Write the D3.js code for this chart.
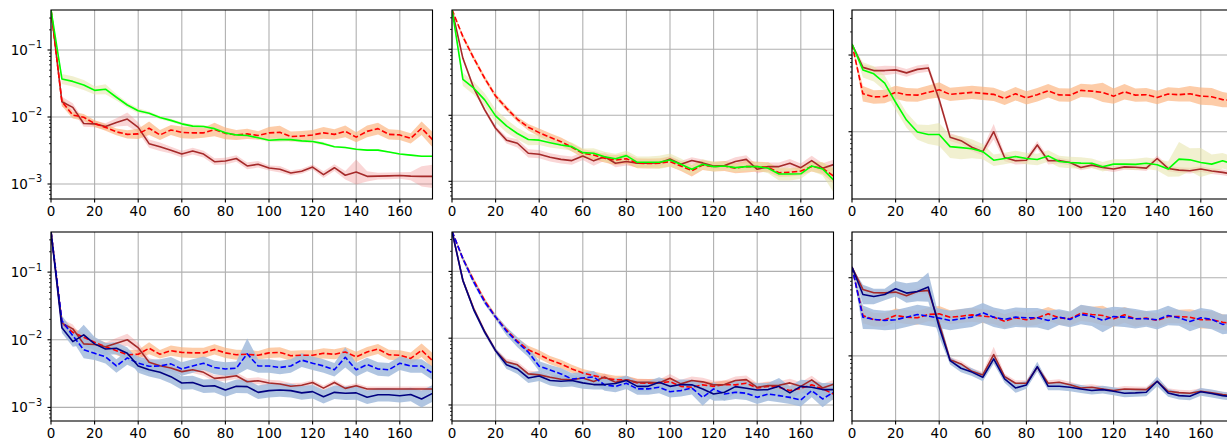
<!DOCTYPE html>
<html><head><meta charset="utf-8">
<script src="https://cdn.jsdelivr.net/npm/d3@7"></script>
<style>body{margin:0;background:#fff}svg{display:block}text{font-family:"DejaVu Sans",sans-serif;fill:#000}</style>
</head><body><svg id="c" width="1227" height="440"></svg>
<script>
// ---------------- data ----------------
const epochs = [0,5,10,15,20,25,30,35,40,45,50,55,60,65,70,75,80,85,90,95,100,105,110,115,120,125,130,135,140,145,150,155,160,165,170,175];
const xTicks = [0,20,40,60,80,100,120,140,160];
const yTickExponents = [-1,-2,-3];

// panel 1 (top-left)
const p1Green = [0.40,0.037,0.034,0.030,0.025,0.026,0.0197,0.0151,0.0124,0.0114,0.0098,0.0089,0.0079,0.0073,0.0072,0.0067,0.0058,0.0054,0.0053,0.0049,0.0045,0.0046,0.0046,0.0044,0.0043,0.0040,0.0036,0.0035,0.0033,0.0032,0.0032,0.0030,0.0028,0.0027,0.0026,0.0026];
const p1Red = [0.40,0.0169,0.0107,0.0099,0.0080,0.0070,0.0060,0.0055,0.0056,0.0068,0.0054,0.0064,0.0059,0.0058,0.0058,0.0065,0.0057,0.0054,0.0056,0.0053,0.0058,0.0059,0.0051,0.0052,0.0054,0.0058,0.0055,0.0061,0.0050,0.0061,0.0067,0.0055,0.0054,0.0048,0.0068,0.0046];
const p1Brown = [0.40,0.0169,0.0139,0.0080,0.0079,0.0072,0.0083,0.0093,0.0070,0.0040,0.0036,0.0032,0.0028,0.0031,0.0028,0.00215,0.0022,0.0024,0.00186,0.00197,0.00173,0.00166,0.00146,0.00155,0.00179,0.00138,0.00175,0.00135,0.00151,0.0013,0.00131,0.00132,0.00134,0.00131,0.0013,0.0013];
const p1GreenBand = [0,6,6,6,5,6,4,3,3,2,2,2,2,2,2,2,2,1,1,2,2,3,2,2,2,2,1,1,1,1,1,1,1,1,1,1];
const p1RedBand = [0,5,4,4,4,4,4,5,6,8,6,6,7,7,6,8,7,6,6,5,7,8,6,6,6,7,6,7,6,7,7,6,6,6,8,9];
const p1BrownBand = [0,6,5,4,4,4,5,8,6,5,5,4,4,4,4,4,4,4,4,4,3,4,3,3,3,4,4,5,15,6,4,4,4,5,12,14];

// panel 2 (top-middle)
const p2Green = [0.40,0.035,0.0257,0.0171,0.0098,0.0069,0.0053,0.0043,0.0042,0.00385,0.00355,0.00335,0.00272,0.00266,0.00236,0.0022,0.00245,0.00194,0.00194,0.00194,0.0021,0.00181,0.00152,0.00181,0.00167,0.00171,0.00161,0.00167,0.00167,0.00158,0.00129,0.00129,0.0013,0.00171,0.00154,0.00105];
const p2Red = [0.40,0.155,0.073,0.0364,0.0196,0.0128,0.0087,0.0066,0.00546,0.00464,0.00399,0.00327,0.00266,0.0025,0.00223,0.0021,0.0022,0.00188,0.00186,0.00188,0.00199,0.00171,0.00145,0.00176,0.00167,0.00171,0.00158,0.00167,0.00167,0.00163,0.00135,0.00137,0.00143,0.00167,0.00158,0.0012];
const p2Brown = [0.40,0.073,0.0257,0.0121,0.00636,0.0042,0.00377,0.00266,0.00257,0.00231,0.00215,0.00206,0.00242,0.00204,0.00236,0.00188,0.0020,0.00188,0.00188,0.0019,0.00218,0.00181,0.00206,0.0019,0.00171,0.00173,0.0020,0.00215,0.00152,0.00167,0.00167,0.00188,0.00161,0.00206,0.00158,0.00179];
const p2GreenBand = [0,8,8,8,8,8,7,7,6,6,5,5,5,6,6,6,6,7,7,8,8,7,6,6,6,5,5,5,5,6,8,8,6,6,8,15];
const p2RedBand = [0,3,3,3,3,3,3,4,5,5,5,5,5,5,5,6,6,6,6,6,6,6,7,6,6,6,6,7,6,6,5,5,5,6,7,9];
const p2BrownBand = [0,3,3,3,3,4,5,5,5,5,5,5,5,6,5,5,5,5,5,4,4,4,4,4,4,5,5,5,5,5,5,5,5,6,6,6];

// panel 3 (top-right)
const p3Green = [0.139,0.064,0.0568,0.043,0.0242,0.0142,0.0099,0.0092,0.0092,0.0064,0.0062,0.0060,0.0055,0.00425,0.00448,0.00475,0.00448,0.00434,0.00484,0.00409,0.00397,0.0039,0.00388,0.00349,0.00378,0.00378,0.00375,0.00388,0.00372,0.00326,0.00439,0.0043,0.00397,0.00378,0.00418,0.0038];
const p3Red = [0.139,0.0313,0.0284,0.0288,0.0326,0.0304,0.030,0.0327,0.0352,0.0307,0.0316,0.0326,0.0316,0.0307,0.0272,0.0313,0.0276,0.0304,0.0342,0.0302,0.030,0.0346,0.0338,0.0326,0.0291,0.0332,0.030,0.0304,0.0280,0.031,0.0304,0.0313,0.0291,0.0286,0.0262,0.0254];
const p3Brown = [0.139,0.069,0.0627,0.0627,0.064,0.0585,0.065,0.0679,0.0262,0.0085,0.00765,0.00627,0.0055,0.010,0.00461,0.00418,0.00425,0.00673,0.00418,0.0042,0.00397,0.00342,0.00367,0.00342,0.00326,0.00348,0.00345,0.00335,0.00448,0.00332,0.00316,0.0031,0.00326,0.00307,0.00295,0.0028];
const p3GreenBand = [0,8,8,8,8,8,8,10,12,12,12,10,8,6,6,6,6,6,6,6,6,6,5,5,5,5,6,6,6,8,18,12,15,10,8,8];
const p3RedBand = [0,8,7,7,7,7,7,7,8,7,7,7,7,7,7,7,7,7,7,7,7,7,7,10,8,8,7,7,7,7,7,8,9,9,8,7];
const p3BrownBand = [0,3,4,5,4,4,4,4,4,4,4,4,4,8,4,4,4,4,4,3,3,3,3,3,3,3,3,3,3,3,3,3,3,3,3,3];

// panel 4 (bottom-left)
const p4Red = [0.40,0.0176,0.0129,0.0109,0.0092,0.0079,0.0069,0.0060,0.0061,0.0075,0.0061,0.0069,0.0065,0.0064,0.0064,0.0072,0.0064,0.0060,0.0061,0.0059,0.0064,0.0065,0.0058,0.0059,0.0059,0.0063,0.0061,0.0066,0.0056,0.0066,0.0073,0.0060,0.0059,0.0053,0.0070,0.0049];
const p4Brown = [0.40,0.0176,0.0145,0.0087,0.0085,0.0079,0.0089,0.0100,0.0076,0.00465,0.00414,0.00383,0.00338,0.00361,0.0033,0.00269,0.00278,0.00294,0.0024,0.00248,0.00229,0.00222,0.00205,0.00212,0.00234,0.00193,0.00234,0.00191,0.00209,0.00187,0.00187,0.00187,0.00187,0.00187,0.00187,0.00187];
const p4Navy = [0.40,0.015,0.0094,0.0118,0.0087,0.0073,0.0075,0.0063,0.0041,0.0036,0.0033,0.00285,0.00229,0.00234,0.00205,0.00209,0.00181,0.00205,0.00203,0.00167,0.00177,0.00181,0.00177,0.00164,0.00171,0.00144,0.00167,0.00162,0.00164,0.00141,0.00154,0.00154,0.00149,0.00155,0.00133,0.00161];
const p4Blue = [0.40,0.0192,0.0115,0.0071,0.0063,0.0056,0.0041,0.0054,0.0045,0.00405,0.0041,0.0044,0.0037,0.0041,0.0045,0.0039,0.0037,0.0038,0.0062,0.0041,0.0041,0.0039,0.0041,0.0050,0.0045,0.0041,0.0036,0.0055,0.0036,0.0043,0.0037,0.0036,0.0045,0.0041,0.0041,0.0032];
const p4RedBand = [0,5,5,5,5,5,5,6,5,7,5,6,6,6,6,6,6,6,5,5,6,6,6,6,6,6,6,6,6,6,6,6,6,7,8,9];
const p4BrownBand = [0,5,5,5,5,5,6,7,6,5,5,4,4,4,4,4,4,4,4,4,4,4,4,3,3,3,3,3,3,3,3,3,3,3,3,3];
const p4NavyBand = [0,6,6,12,8,7,7,7,8,8,8,8,8,8,8,8,8,8,8,8,8,8,8,8,8,8,8,8,8,8,8,8,8,8,10,10];
const p4BlueBand = [0,6,6,10,8,8,8,8,8,8,8,8,8,8,8,8,8,8,18,8,8,8,8,8,8,8,8,12,8,8,8,8,8,8,8,8];

// panel 5 (bottom-middle)
const p5Red = [0.40,0.155,0.073,0.0367,0.0207,0.0133,0.009,0.0067,0.0057,0.0047,0.0041,0.00347,0.003,0.00275,0.00254,0.00238,0.00238,0.00214,0.00212,0.00214,0.00224,0.0019,0.00184,0.002,0.0019,0.00202,0.002,0.00212,0.0018,0.0019,0.00184,0.00164,0.00178,0.002,0.00174,0.00146];
const p5Brown = [0.40,0.073,0.0275,0.0126,0.0065,0.0044,0.0040,0.00292,0.00282,0.0026,0.00243,0.00238,0.00254,0.00224,0.00263,0.00218,0.00238,0.00218,0.00218,0.00214,0.00251,0.00207,0.00232,0.00222,0.002,0.00202,0.00232,0.0024,0.00184,0.00195,0.00197,0.00214,0.0019,0.00238,0.0018,0.00205];
const p5Navy = [0.40,0.073,0.0266,0.0123,0.0065,0.0040,0.00347,0.00254,0.00272,0.00232,0.00226,0.00232,0.00214,0.00202,0.00202,0.0021,0.00232,0.0019,0.0019,0.00218,0.0019,0.00202,0.002,0.00174,0.00146,0.00155,0.00188,0.00178,0.00168,0.0017,0.0019,0.00152,0.0019,0.00184,0.0017,0.0017];
const p5Blue = [0.40,0.155,0.069,0.0347,0.0207,0.0127,0.0087,0.0062,0.0038,0.00335,0.00292,0.00245,0.00254,0.00263,0.002,0.0019,0.00212,0.00174,0.00174,0.00184,0.00158,0.00164,0.0018,0.0013,0.00174,0.00146,0.00155,0.0015,0.0013,0.00146,0.00138,0.0013,0.00119,0.00164,0.00123,0.00155];
const p5RedBand = [0,3,3,3,3,3,4,5,5,5,5,5,5,5,5,5,5,5,5,5,5,5,5,5,5,5,5,5,5,5,5,5,5,5,6,8];
const p5BrownBand = [0,3,3,3,3,4,4,4,4,4,4,4,4,4,4,4,4,4,4,4,5,5,5,5,5,5,5,5,5,5,5,5,5,5,5,5];
const p5NavyBand = [0,3,3,3,3,5,6,6,6,6,7,7,7,6,6,6,6,6,6,6,6,6,6,7,8,10,8,8,8,8,10,8,8,8,8,8];
const p5BlueBand = [0,3,3,3,3,5,6,6,6,6,7,7,7,7,7,7,7,7,7,7,7,7,8,10,8,8,8,8,8,8,8,8,8,8,10,8];

// panel 6 (bottom-right)
const p6Red = [0.137,0.0329,0.029,0.029,0.0329,0.0313,0.0307,0.0339,0.0345,0.0313,0.0322,0.0335,0.0322,0.0313,0.0278,0.0307,0.029,0.0307,0.0345,0.0307,0.0298,0.0352,0.0339,0.0329,0.0298,0.0335,0.0298,0.0304,0.0284,0.0319,0.0319,0.0313,0.029,0.029,0.027,0.0257];
const p6Brown = [0.137,0.0709,0.0642,0.064,0.0655,0.0588,0.0668,0.0688,0.0257,0.0089,0.0079,0.00635,0.0057,0.0104,0.00543,0.00446,0.00446,0.00716,0.00446,0.0046,0.00428,0.00389,0.00397,0.00377,0.0036,0.00377,0.00373,0.0037,0.00473,0.00353,0.00339,0.00333,0.00353,0.00336,0.0032,0.0031];
const p6Navy = [0.137,0.061,0.0576,0.061,0.0723,0.0636,0.0668,0.0759,0.0233,0.0087,0.00695,0.0062,0.00532,0.00916,0.00508,0.00389,0.00425,0.0073,0.00408,0.00408,0.00397,0.00377,0.0036,0.0037,0.00353,0.00333,0.00336,0.00342,0.00473,0.00336,0.0031,0.00304,0.00347,0.0033,0.0031,0.0030];
const p6Blue = [0.137,0.0313,0.0293,0.0284,0.029,0.0313,0.0339,0.0322,0.0304,0.0284,0.0298,0.0313,0.0356,0.0313,0.0293,0.0313,0.0307,0.0307,0.0284,0.0313,0.0293,0.0339,0.0322,0.0284,0.0319,0.0313,0.0298,0.0298,0.029,0.0329,0.0307,0.0275,0.0307,0.0293,0.0253,0.026];
const p6RedBand = [0,8,7,7,7,7,7,7,8,7,7,7,7,7,7,7,7,7,7,7,7,8,8,10,8,8,8,7,7,7,7,8,9,9,8,8];
const p6BrownBand = [0,4,3,3,3,3,3,4,4,3,3,3,3,8,3,3,3,3,3,3,3,3,3,3,3,3,3,3,3,3,3,3,3,3,3,3];
const p6NavyBand = [0,10,8,6,8,10,10,15,10,4,4,4,4,5,4,5,4,5,4,4,4,4,4,4,4,4,4,4,5,4,4,4,4,4,4,4];
const p6BlueBand = [0,12,10,10,10,10,10,10,10,10,10,10,10,10,10,10,10,10,10,8,8,10,10,12,10,10,10,8,10,10,8,10,10,10,10,10];

// y-axis ranges per panel (log10 of bottom / top)
const yRanges = [[-3.224,-0.403],[-3.268,-0.405],[-2.877,-0.413],[-3.201,-0.407],[-3.24,-0.41],[-2.833,-0.415]];
const xRange = [0,175];

// ---------------- styles ----------------
const bandUnit = 80; // band arrays are in 1/bandUnit decades
const styles = {
  green:{stroke:"#00ff00", dash:null, fill:"#e6e4aa", fo:0.55},
  red:{stroke:"#ff0000", dash:"5.5,2.4", fill:"#fcb07a", fo:0.65},
  brown:{stroke:"#a52a2a", dash:null, fill:"#f08080", fo:0.32},
  navy:{stroke:"#000080", dash:null, fill:"#a2bbdc", fo:0.85},
  blue:{stroke:"#0000ff", dash:"5.5,2.4", fill:"#a2bbdc", fo:0.85}
};

const panels = [
  {series:[["brown",p1Brown,p1BrownBand],["red",p1Red,p1RedBand],["green",p1Green,p1GreenBand]]},
  {series:[["brown",p2Brown,p2BrownBand],["red",p2Red,p2RedBand],["green",p2Green,p2GreenBand]]},
  {series:[["brown",p3Brown,p3BrownBand],["red",p3Red,p3RedBand],["green",p3Green,p3GreenBand]]},
  {series:[["red",p4Red,p4RedBand],["brown",p4Brown,p4BrownBand],["blue",p4Blue,p4BlueBand],["navy",p4Navy,p4NavyBand]]},
  {series:[["red",p5Red,p5RedBand],["brown",p5Brown,p5BrownBand],["blue",p5Blue,p5BlueBand],["navy",p5Navy,p5NavyBand]]},
  {series:[["red",p6Red,p6RedBand],["brown",p6Brown,p6BrownBand],["blue",p6Blue,p6BlueBand],["navy",p6Navy,p6NavyBand]]}
];

// ---------------- layout ----------------
const lefts = [51, 452, 852];
const tops = [10, 232];
const W = 381.5, H = 189;

const svg = d3.select("#c");
const defs = svg.append("defs");

panels.forEach((p, i) => {
  const col = i % 3, row = Math.floor(i / 3);
  const L = lefts[col], T = tops[row];
  const x = d3.scaleLinear().domain(xRange).range([L, L + W]);
  const yr = yRanges[i];
  const y = d3.scaleLog().domain([Math.pow(10, yr[0]), Math.pow(10, yr[1])]).range([T + H, T]);
  const g = svg.append("g");
  const cid = "clip" + i;
  defs.append("clipPath").attr("id", cid).append("rect").attr("x", L).attr("y", T).attr("width", W).attr("height", H);

  // grid
  const gg = g.append("g").attr("stroke", "#b0b0b0").attr("stroke-width", 1.1);
  xTicks.forEach(t => gg.append("line").attr("x1", x(t)).attr("x2", x(t)).attr("y1", T).attr("y2", T + H));
  yTickExponents.forEach(e => {
    const v = Math.pow(10, e);
    if (e >= yr[0] && e <= yr[1]) gg.append("line").attr("x1", L).attr("x2", L + W).attr("y1", y(v)).attr("y2", y(v));
  });

  const pg = g.append("g").attr("clip-path", `url(#${cid})`);
  // bands
  p.series.forEach(([k, vals, band]) => {
    const st = styles[k];
    const area = d3.area()
      .x((d, j) => x(epochs[j]))
      .y0((d, j) => y(d * Math.pow(10, -band[j] / bandUnit)))
      .y1((d, j) => y(d * Math.pow(10, band[j] / bandUnit)));
    pg.append("path").attr("d", area(vals)).attr("fill", st.fill).attr("fill-opacity", st.fo).attr("stroke", "none");
  });
  // lines
  p.series.forEach(([k, vals]) => {
    const st = styles[k];
    const line = d3.line().x((d, j) => x(epochs[j])).y(d => y(d));
    const path = pg.append("path").attr("d", line(vals)).attr("fill", "none")
      .attr("stroke", st.stroke).attr("stroke-width", 1.6).attr("stroke-linejoin", "round");
    if (st.dash) path.attr("stroke-dasharray", st.dash);
  });

  // spines
  g.append("rect").attr("x", L).attr("y", T).attr("width", W).attr("height", H)
    .attr("fill", "none").attr("stroke", "#000").attr("stroke-width", 1.1);

  // x ticks
  const xa = g.append("g");
  xTicks.forEach(t => {
    xa.append("line").attr("x1", x(t)).attr("x2", x(t)).attr("y1", T + H).attr("y2", T + H + 3.5)
      .attr("stroke", "#000").attr("stroke-width", 1.1);
    xa.append("text").attr("x", x(t)).attr("y", T + H + 16.5).attr("text-anchor", "middle")
      .attr("font-size", "13.5px").text(t);
  });

  // y ticks (major + minor)
  const ya = g.append("g");
  for (let e = Math.floor(yr[0]) ; e <= Math.ceil(yr[1]); e++) {
    for (let m = 1; m <= 9; m++) {
      const v = m * Math.pow(10, e);
      const lv = Math.log10(v);
      if (lv < yr[0] || lv > yr[1]) continue;
      const major = m === 1;
      ya.append("line").attr("x1", L).attr("x2", L - (major ? 3.5 : 2))
        .attr("y1", y(v)).attr("y2", y(v)).attr("stroke", "#000").attr("stroke-width", major ? 1.1 : 0.8);
      if (major && col === 0) {
        const t = ya.append("text").attr("x", L - 9).attr("y", y(v) + 5).attr("text-anchor", "end").attr("font-size", "13.5px");
        t.append("tspan").text("10");
        t.append("tspan").attr("font-size", "9.6px").attr("dy", -6.5).text("\u2212" + Math.abs(e));
      }
    }
  }
});
</script>
</body></html>
